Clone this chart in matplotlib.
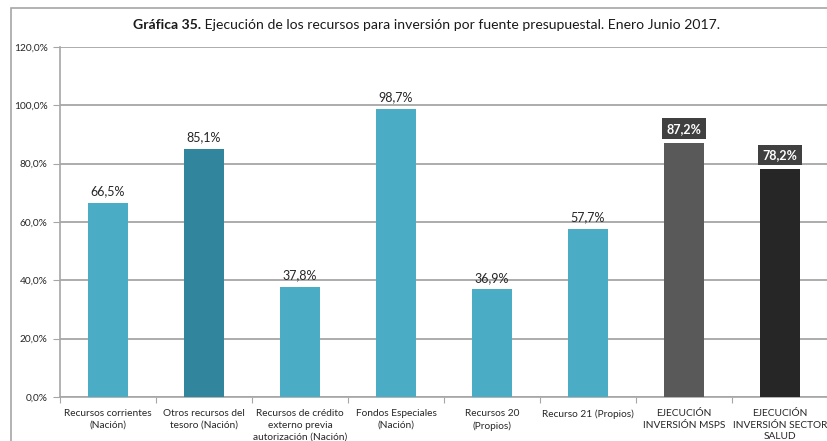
import matplotlib.pyplot as plt
from matplotlib.patches import Rectangle
from matplotlib.ticker import FuncFormatter

plt.rcParams['font.family'] = ['Lato', 'DejaVu Sans']

categories = [
    'Recursos corrientes\n(Nación)',
    'Otros recursos del\ntesoro (Nación)',
    'Recursos de crédito\nexterno previa\nautorización (Nación)',
    'Fondos Especiales\n(Nación)',
    'Recursos 20\n(Propios)',
    'Recurso 21 (Propios)',
    'EJECUCIÓN\nINVERSIÓN MSPS',
    'EJECUCIÓN\nINVERSIÓN SECTOR\nSALUD',
]
values = [66.5, 85.1, 37.8, 98.7, 36.9, 57.7, 87.2, 78.2]
colors = ['#4BACC6', '#31859C', '#4BACC6', '#4BACC6',
          '#4BACC6', '#4BACC6', '#595959', '#262626']
boxed = [False, False, False, False, False, False, True, True]

W, H = 827, 441
fig = plt.figure(figsize=(W / 100, H / 100), dpi=100)
ax = fig.add_axes([60 / W, 1 - 397 / H, 768 / W, 350 / H])

# outer frame of the chart
fig.patches.append(Rectangle((11 / W, -0.1), 1.1, 1 - 8 / H + 0.1,
                             transform=fig.transFigure, fill=False,
                             edgecolor='#A6A6A6', linewidth=1.2, zorder=0))

x = range(len(values))
bars = ax.bar(x, values, width=0.41, color=colors, zorder=3)

for i, (b, v) in enumerate(zip(bars, values)):
    label = f'{v:.1f}%'.replace('.', ',')
    cx = b.get_x() + b.get_width() / 2
    if boxed[i]:
        ax.annotate(label, (cx, v), xytext=(0, 10), textcoords='offset points',
                    ha='center', va='center', fontsize=9, fontweight='bold',
                    color='white', zorder=5,
                    bbox=dict(boxstyle='square,pad=0.35', facecolor='#404040',
                              edgecolor='none'))
    else:
        ax.annotate(label, (cx, v), xytext=(0, 4), textcoords='offset points',
                    ha='center', va='bottom', fontsize=9, color='#262626')

ax.set_xlim(-0.5, len(values) - 0.5)
ax.set_ylim(0, 120)
ax.set_yticks(range(0, 121, 20))
ax.yaxis.set_major_formatter(FuncFormatter(lambda v, p: f'{v:.1f}%'.replace('.', ',')))
ax.grid(axis='y', color='#A6A6A6', linewidth=1.3, zorder=0)

# boundary ticks between categories; category names written below each bar
ax.set_xticks([i + 0.5 for i in range(-1, len(values))])
ax.set_xticklabels([])
ax.tick_params(axis='x', length=4, color='#A6A6A6', direction='out')
for i, name in enumerate(categories):
    ax.annotate(name, (i, 0), xycoords=('data', 'axes fraction'),
                xytext=(0, -9), textcoords='offset points',
                ha='center', va='top', multialignment='center',
                fontsize=7.3, color='#262626', linespacing=1.35,
                annotation_clip=False)
ax.tick_params(axis='y', length=5, color='#A6A6A6', labelsize=7.3,
               labelcolor='#262626', pad=4)

for s in ['top', 'right']:
    ax.spines[s].set_visible(False)
for s in ['left', 'bottom']:
    ax.spines[s].set_color('#A6A6A6')
    ax.spines[s].set_linewidth(1.2)

t = fig.text(133 / W, 1 - 25 / H, 'Gráfica 35.', fontsize=10.1,
             fontweight='bold', va='center', ha='left', color='#1a1a1a')
ax.annotate(' Ejecución de los recursos para inversión por fuente presupuestal. Enero Junio 2017.',
            xy=(1, 0.5), xycoords=t, ha='left', va='center', fontsize=10.1,
            color='#1a1a1a', annotation_clip=False)

fig.savefig('out.png', dpi=100)
